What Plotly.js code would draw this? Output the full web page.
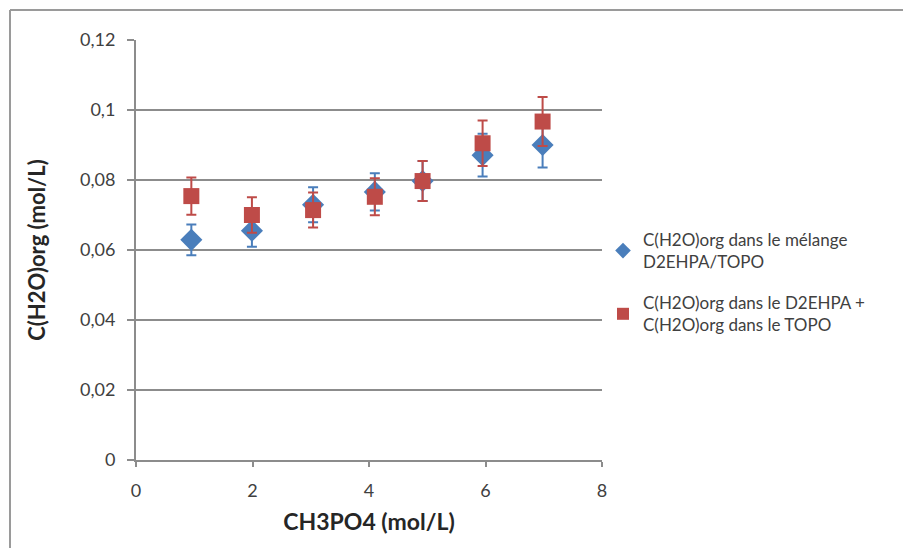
<!DOCTYPE html>
<html>
<head>
<meta charset="utf-8">
<script src="https://cdn.plot.ly/plotly-3.0.1.min.js"></script>
<style>html,body{margin:0;padding:0;background:#fff;}#chart{width:903px;height:548px;}</style>
</head>
<body>
<div id="chart"></div>
<script>
var xBlue = [0.95, 1.99, 3.04, 4.10, 4.92, 5.95, 6.98];
var yBlue = [0.0629, 0.0655, 0.0729, 0.0766, 0.0797, 0.0871, 0.0900];
var errBlue = [0.0044, 0.0046, 0.0050, 0.0053, 0.0057, 0.0061, 0.0064];
var xRed = [0.95, 1.99, 3.04, 4.10, 4.92, 5.95, 6.98];
var yRed = [0.0754, 0.0700, 0.0714, 0.0752, 0.0797, 0.0905, 0.0967];
var errRed = [0.0053, 0.0051, 0.0050, 0.0053, 0.0057, 0.0065, 0.0070];
var nameBlue = 'C(H2O)org dans le mélange<br>D2EHPA/TOPO';
var nameRed = 'C(H2O)org dans le D2EHPA +<br>C(H2O)org dans le TOPO';
var yTickVals = [0, 0.02, 0.04, 0.06, 0.08, 0.1, 0.12];
var yTickText = ['0', '0,02', '0,04', '0,06', '0,08', '0,1', '0,12'];
var xTickVals = [0, 2, 4, 6, 8];
var xTickText = ['0', '2', '4', '6', '8'];

var blue = '#4a7ebb', red = '#be4b48', grid = '#8c8c8c';
var FONT = 'Lato, "Open Sans", sans-serif';
var TXT = '#404040';

var traces = [
  {x: xBlue, y: yBlue, name: nameBlue, legendgroup: 'g1', type: 'scatter', mode: 'markers',
   marker: {symbol: 'diamond', size: 17, color: blue},
   error_y: {type: 'data', array: errBlue, visible: true, color: blue, thickness: 2, width: 5}},
  {x: xRed, y: yRed, name: nameRed, legendgroup: 'g2', type: 'scatter', mode: 'markers',
   marker: {symbol: 'square', size: 16, color: red},
   error_y: {type: 'data', array: errRed, visible: true, color: red, thickness: 2, width: 5}}
];

var L = 136, R = 602, T = 40, B = 460;
var pw = R - L, ph = B - T;
function px(v){ return (v - L) / pw; }
function py(v){ return (B - v) / ph; }

var layout = {
  width: 903, height: 548,
  margin: {l: L, r: 903 - R, t: T, b: 548 - B},
  paper_bgcolor: '#fff', plot_bgcolor: '#fff',
  font: {family: FONT, size: 18, color: TXT},
  showlegend: true,
  legend: {x: px(603), y: py(222), xanchor: 'left', yanchor: 'top',
           traceorder: 'grouped', tracegroupgap: 16,
           font: {family: FONT, size: 17, color: TXT},
           itemsizing: 'constant', bgcolor: 'rgba(0,0,0,0)'},
  xaxis: {range: [0, 8], tickvals: xTickVals, ticktext: xTickText,
          showgrid: false, zeroline: false, showline: true, linecolor: grid, linewidth: 2,
          ticks: 'outside', ticklen: 5, tickwidth: 2, tickcolor: grid, ticklabelstandoff: 8,
          tickfont: {family: FONT, size: 18, color: TXT},
          title: {text: '<b>CH3PO4 (mol/L)</b>', font: {family: FONT, size: 23, color: '#262626'}, standoff: 14},
          fixedrange: true},
  yaxis: {range: [0, 0.12], tickvals: yTickVals, ticktext: yTickText,
          showgrid: true, gridcolor: grid, gridwidth: 2, zeroline: false,
          showline: true, linecolor: grid, linewidth: 2,
          ticks: 'outside', ticklen: 7, tickwidth: 2, tickcolor: grid, ticklabelstandoff: 8,
          tickfont: {family: FONT, size: 18, color: TXT},
          title: {text: '<b>C(H2O)org (mol/L)</b>', font: {family: FONT, size: 22, color: '#262626'}, standoff: 28},
          fixedrange: true},
  shapes: [
    {type: 'line', xref: 'paper', yref: 'paper', x0: px(10), x1: px(903), y0: py(10), y1: py(10), line: {color: '#9a9a9a', width: 2}},
    {type: 'line', xref: 'paper', yref: 'paper', x0: px(10), x1: px(10), y0: py(10), y1: py(548), line: {color: '#9a9a9a', width: 2}}
  ]
};
Plotly.newPlot('chart', traces, layout, {displayModeBar: false, staticPlot: true});
</script>
</body>
</html>
